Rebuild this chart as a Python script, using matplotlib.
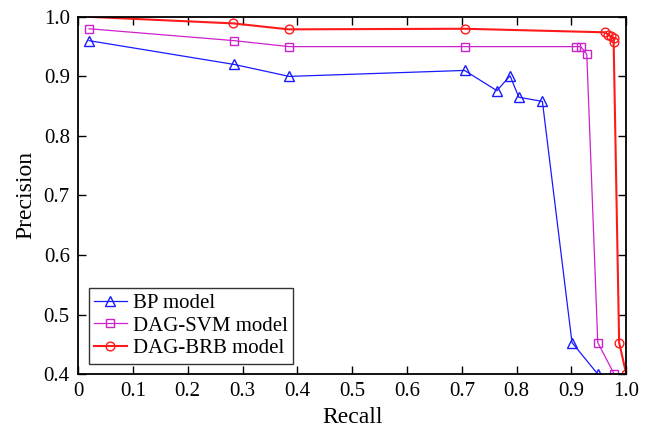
import matplotlib
matplotlib.use("Agg")
import matplotlib.pyplot as plt

# precision-recall points for each model
bp_recall = [0.02, 0.285, 0.385, 0.705, 0.764, 0.788, 0.804, 0.847, 0.901, 0.948]
bp_precision = [0.96, 0.92, 0.90, 0.91, 0.876, 0.901, 0.865, 0.858, 0.453, 0.40]

svm_recall = [0.02, 0.285, 0.385, 0.705, 0.908, 0.917, 0.928, 0.948, 0.978]
svm_precision = [0.98, 0.96, 0.95, 0.95, 0.95, 0.95, 0.937, 0.453, 0.40]

brb_recall = [0.02, 0.283, 0.384, 0.705, 0.962, 0.967, 0.972, 0.978, 0.977, 0.987, 1.0]
brb_precision = [1.0, 0.989, 0.979, 0.98, 0.974, 0.970, 0.967, 0.964, 0.957, 0.453, 0.40]

x_ticks = [0, 0.1, 0.2, 0.3, 0.4, 0.5, 0.6, 0.7, 0.8, 0.9, 1.0]
x_tick_labels = ["0", "0.1", "0.2", "0.3", "0.4", "0.5", "0.6", "0.7", "0.8", "0.9", "1.0"]
y_ticks = [0.4, 0.5, 0.6, 0.7, 0.8, 0.9, 1.0]
y_tick_labels = ["0.4", "0.5", "0.6", "0.7", "0.8", "0.9", "1.0"]

plt.rcParams.update({
    "font.family": "Liberation Serif",
    "font.size": 15,
    "axes.linewidth": 1.3,
})

fig = plt.figure(figsize=(6.51, 4.32), dpi=100)
ax = fig.add_axes([0.12, 0.134, 0.842, 0.827])

ax.plot(bp_recall, bp_precision, color="#1a1aff", lw=0.9, marker="^",
        ms=7, mfc="none", mec="#1a1aff", mew=1.0, label="BP model")
ax.plot(svm_recall, svm_precision, color="#cc22cc", lw=0.9, marker="s",
        ms=5.8, mfc="none", mec="#cc22cc", mew=1.0, label="DAG-SVM model")
ax.plot(brb_recall, brb_precision, color="#ff1a1a", lw=1.5, marker="o",
        ms=6.3, mfc="none", mec="#ff1a1a", mew=1.0, label="DAG-BRB model",
        markevery=list(range(1, len(brb_recall))))

ax.set_xlim(0, 1.0)
ax.set_ylim(0.4, 1.0)
ax.set_xticks(x_ticks, x_tick_labels)
ax.set_yticks(y_ticks, y_tick_labels)
ax.tick_params(direction="in", length=6, width=1.0, top=True, right=True,
               labelsize=15, pad=6)
ax.set_xlabel("Recall", fontsize=17, labelpad=4)
ax.set_ylabel("Precision", fontsize=17, labelpad=5)

leg = ax.legend(loc="lower left", fontsize=15, frameon=True, fancybox=False,
                edgecolor="black", borderpad=0.25, labelspacing=0.15,
                handlelength=1.6, handletextpad=0.3, borderaxespad=0.5)
leg.get_frame().set_linewidth(1.0)

fig.savefig("out.png", dpi=100)
